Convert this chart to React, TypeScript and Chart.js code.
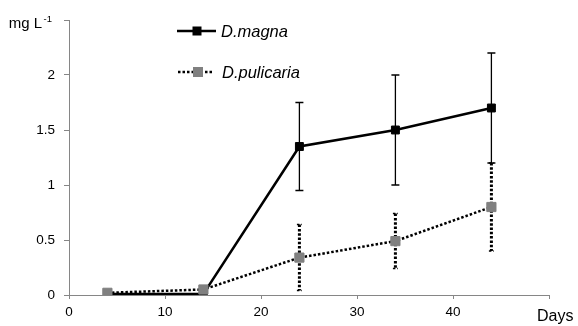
import React, { useEffect, useRef } from 'react';
import { Chart, registerables } from 'chart.js';

Chart.register(...registerables);

const days = [4, 14, 24, 34, 44];
const magna = [0.01, 0.01, 1.35, 1.5, 1.7];
const magnaErr = [0, 0, 0.4, 0.5, 0.5];
const pulicaria = [0.02, 0.05, 0.34, 0.49, 0.8];
const pulicariaErr = [0, 0, 0.3, 0.25, 0.4];
const seriesNames = ['D.magna', 'D.pulicaria'];
const xTitle = 'Days';
const yUnit = 'mg L';
const yUnitSup = '-1';
const xMax = 50;
const yMax = 2.5;

const FONT = '"Liberation Sans", Arial, sans-serif';
const AXIS_COLOR = '#868686';
const GREY = '#808080';

const errorBars = {
  id: 'errorBars',
  beforeDatasetsDraw(chart: any) {
    const { ctx, scales } = chart;
    const x = scales.x;
    const y = scales.y;
    const draw = (vals: number[], errs: number[], dotted: boolean) => {
      ctx.save();
      ctx.strokeStyle = '#000';
      days.forEach((d, i) => {
        const e = errs[i];
        if (!e) return;
        const px = x.getPixelForValue(d);
        const top = y.getPixelForValue(vals[i] + e);
        const bot = y.getPixelForValue(vals[i] - e);
        const cap = dotted ? 2.5 : 4;
        if (dotted) {
          ctx.lineWidth = 3;
          ctx.setLineDash([2.5, 1.8]);
        } else {
          ctx.lineWidth = 1.3;
          ctx.setLineDash([]);
        }
        ctx.beginPath();
        ctx.moveTo(px, top);
        ctx.lineTo(px, bot);
        ctx.stroke();
        ctx.lineWidth = dotted ? 1.5 : 1.3;
        ctx.beginPath();
        ctx.moveTo(px - cap, top);
        ctx.lineTo(px + cap, top);
        ctx.moveTo(px - cap, bot);
        ctx.lineTo(px + cap, bot);
        ctx.stroke();
      });
      ctx.restore();
    };
    draw(magna, magnaErr, false);
    draw(pulicaria, pulicariaErr, true);
  },
};

const extras = {
  id: 'extras',
  afterDraw(chart: any) {
    const { ctx } = chart;
    ctx.save();
    // Legend: D.magna
    ctx.strokeStyle = '#000';
    ctx.lineWidth = 2.5;
    ctx.setLineDash([]);
    ctx.beginPath();
    ctx.moveTo(177, 31);
    ctx.lineTo(216, 31);
    ctx.stroke();
    ctx.fillStyle = '#000';
    ctx.fillRect(197 - 4.5, 31 - 4.5, 9, 9);
    // Legend: D.pulicaria
    ctx.setLineDash([2.5, 2]);
    ctx.beginPath();
    ctx.moveTo(178, 72);
    ctx.lineTo(214, 72);
    ctx.stroke();
    ctx.setLineDash([]);
    ctx.fillStyle = GREY;
    ctx.fillRect(198 - 5, 72 - 5, 10, 10);
    ctx.fillStyle = '#000';
    ctx.font = `italic 16.5px ${FONT}`;
    ctx.textAlign = 'left';
    ctx.textBaseline = 'alphabetic';
    ctx.fillText(seriesNames[0], 221, 36.5);
    ctx.fillText(seriesNames[1], 222, 78);
    // X title
    ctx.font = `16px ${FONT}`;
    ctx.fillText(xTitle, 537, 321);
    // Y unit
    ctx.textAlign = 'right';
    ctx.font = `15px ${FONT}`;
    ctx.fillText(yUnit, 42, 28);
    ctx.textAlign = 'left';
    ctx.font = `9.5px ${FONT}`;
    ctx.fillText(yUnitSup, 43.5, 22);
    ctx.restore();
  },
};

export default function App() {
  const ref = useRef<HTMLCanvasElement>(null);
  useEffect(() => {
    if (!ref.current) return;
    const chart = new Chart(ref.current, {
      type: 'line',
      data: {
        datasets: [
          {
            label: seriesNames[0],
            data: days.map((d, i) => ({ x: d, y: magna[i] })),
            borderColor: '#000',
            borderWidth: 2.5,
            pointStyle: 'rect',
            pointRadius: 5.6,
            pointBackgroundColor: '#000',
            pointBorderColor: '#000',
            pointBorderWidth: 1,
            order: 1,
          },
          {
            label: seriesNames[1],
            data: days.map((d, i) => ({ x: d, y: pulicaria[i] })),
            borderColor: '#000',
            borderWidth: 2.5,
            borderDash: [2.5, 2],
            pointStyle: 'rect',
            pointRadius: 6.5,
            pointBackgroundColor: GREY,
            pointBorderColor: GREY,
            pointBorderWidth: 1,
            order: 0,
          },
        ],
      },
      options: {
        responsive: false,
        animation: false,
        devicePixelRatio: 1,
        layout: { padding: { left: 0, top: 20, right: 29, bottom: 0 } },
        plugins: { legend: { display: false }, tooltip: { enabled: false } },
        scales: {
          x: {
            type: 'linear',
            min: 0,
            max: xMax,
            afterFit: (s: any) => { s.height = 31; },
            ticks: {
              stepSize: 10,
              color: '#000',
              font: { family: FONT, size: 13.5 },
              padding: 5,
              maxRotation: 0,
              callback: (v: any) => (v === xMax ? '' : String(v)),
            },
            grid: { drawOnChartArea: false, drawTicks: true, tickLength: 4, color: AXIS_COLOR },
            border: { color: AXIS_COLOR, width: 1 },
          },
          y: {
            type: 'linear',
            min: 0,
            max: yMax,
            afterFit: (s: any) => { s.width = 69; },
            ticks: {
              stepSize: 0.5,
              color: '#000',
              font: { family: FONT, size: 13.5 },
              padding: 9,
              callback: (v: any) => (v === yMax ? '' : String(v)),
            },
            grid: { drawOnChartArea: false, drawTicks: true, tickLength: 5, color: AXIS_COLOR },
            border: { color: AXIS_COLOR, width: 1 },
          },
        },
      },
      plugins: [errorBars, extras],
    });
    return () => chart.destroy();
  }, []);
  return (
    <div style={{ position: 'fixed', left: 0, top: 0, width: 578, height: 326, background: '#fff' }}>
      <canvas ref={ref} width={578} height={326} />
    </div>
  );
}
